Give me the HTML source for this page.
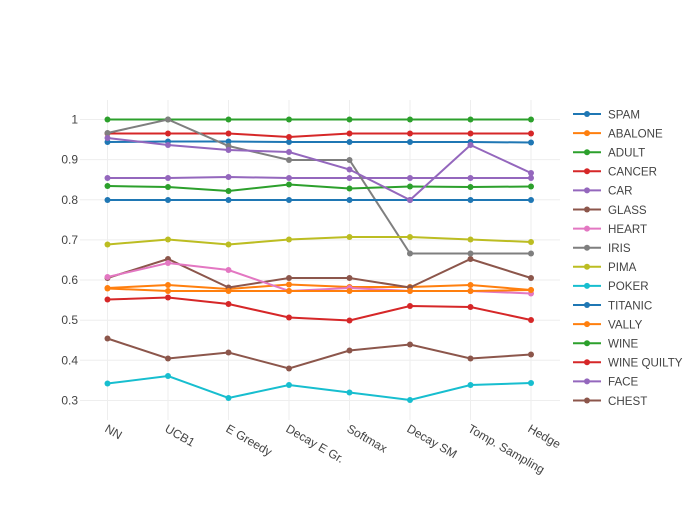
<!DOCTYPE html><html><head><style>body{margin:0;background:#fff}text{font-family:"Liberation Sans",sans-serif;fill:#444;font-size:12px}.lg{font-size:11.6px}</style></head><body>
<svg width="700" height="500" xmlns="http://www.w3.org/2000/svg">
<g stroke="#eee" stroke-width="1">
<line x1="80" x2="560" y1="119.5" y2="119.5"/><line x1="80" x2="560" y1="159.6" y2="159.6"/><line x1="80" x2="560" y1="199.8" y2="199.8"/><line x1="80" x2="560" y1="239.9" y2="239.9"/><line x1="80" x2="560" y1="280" y2="280"/><line x1="80" x2="560" y1="320.2" y2="320.2"/><line x1="80" x2="560" y1="360.3" y2="360.3"/><line x1="80" x2="560" y1="400.5" y2="400.5"/>
<line x1="107.5" x2="107.5" y1="100" y2="420"/><line x1="168" x2="168" y1="100" y2="420"/><line x1="228.5" x2="228.5" y1="100" y2="420"/><line x1="289" x2="289" y1="100" y2="420"/><line x1="349.5" x2="349.5" y1="100" y2="420"/><line x1="410" x2="410" y1="100" y2="420"/><line x1="470.5" x2="470.5" y1="100" y2="420"/><line x1="531" x2="531" y1="100" y2="420"/>
</g>
<g text-anchor="end"><text x="78" y="123.5">1</text><text x="78" y="163.6">0.9</text><text x="78" y="203.8">0.8</text><text x="78" y="243.9">0.7</text><text x="78" y="284">0.6</text><text x="78" y="324.2">0.5</text><text x="78" y="364.3">0.4</text><text x="78" y="404.5">0.3</text></g>
<g>
<text transform="translate(104,431) rotate(30)">NN</text>
<text transform="translate(164,431) rotate(30)">UCB1</text>
<text transform="translate(225,431) rotate(30)">E Greedy</text>
<text transform="translate(285,431) rotate(30)">Decay E Gr.</text>
<text transform="translate(346,431) rotate(30)">Softmax</text>
<text transform="translate(406,431) rotate(30)">Decay SM</text>
<text transform="translate(467,431) rotate(30)">Tomp. Sampling</text>
<text transform="translate(527,431) rotate(30)">Hedge</text>
</g>
<g id="s" fill="none" stroke-width="2"></g>
</svg>
<script>
var X=[107.5,168,228.5,289,349.5,410,470.5,531];
var S=[
["SPAM","#1f77b4",[142,141.5,141.5,142,142,142,142,142.5]],
["ABALONE","#ff7f0e",[288,285,289,284.5,287,287,285,290]],
["ADULT","#2ca02c",[119.5,119.5,119.5,119.5,119.5,119.5,119.5,119.5]],
["CANCER","#d62728",[133.5,133.5,133.5,137,133.5,133.5,133.5,133.5]],
["CAR","#9467bd",[178,178,177,178,178,178,178,178]],
["GLASS","#8c564b",[278,259,287.5,278,278,287.5,259,278]],
["HEART","#e377c2",[277,263,270,291,288,291,291,293.5]],
["IRIS","#7f7f7f",[133,119.5,146,160,160,253.5,253.5,253.5]],
["PIMA","#bcbd22",[244.5,239.5,244.5,239.5,237,237,239.5,242]],
["POKER","#17becf",[383.5,376,398,385,392.5,400,385,383]],
["TITANIC","#1f77b4",[200,200,200,200,200,200,200,200]],
["VALLY","#ff7f0e",[288.5,291,291,291,291,291,291,290]],
["WINE","#2ca02c",[186,187,191,184.5,188.5,186.5,187,186.5]],
["WINE QUILTY","#d62728",[299.5,297.5,304,317.5,320.5,306,307,320]],
["FACE","#9467bd",[138,145,150,152,169.5,200,145,173]],
["CHEST","#8c564b",[338.5,358.5,352.5,368.5,350.5,344.5,358.5,354.5]]];
var h="";
S.forEach(function(s,i){var p=s[2].map(function(y,j){return X[j]+","+y}).join(" ");
h+='<polyline points="'+p+'" stroke="'+s[1]+'"/>';
s[2].forEach(function(y,j){h+='<circle cx="'+X[j]+'" cy="'+y+'" r="3" fill="'+s[1]+'" stroke="none"/>'});
var ly=114+i*19.1;
h+='<line x1="573" x2="601" y1="'+ly+'" y2="'+ly+'" stroke="'+s[1]+'"/><circle cx="587" cy="'+ly+'" r="3" fill="'+s[1]+'" stroke="none"/><text class="lg" x="608" y="'+(ly+4.3)+'" stroke="none">'+s[0]+'</text>';});
document.getElementById("s").innerHTML=h;
</script>
</body></html>
